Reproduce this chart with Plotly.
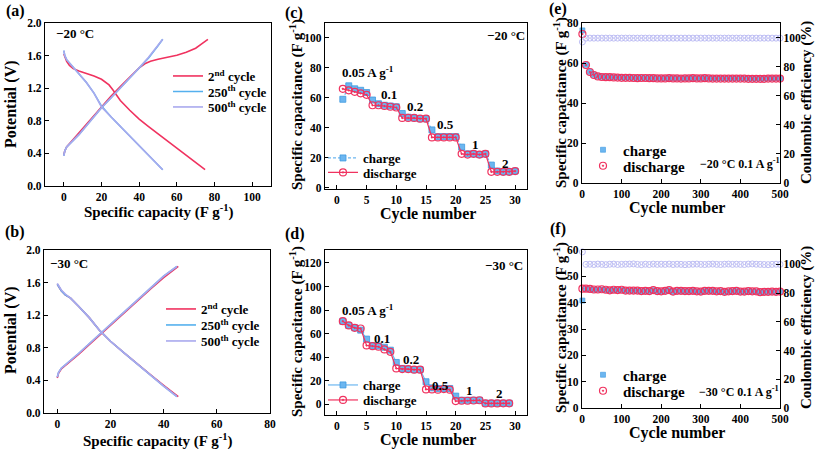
import plotly.graph_objects as go

W, H = 815, 449
FONT = "Liberation Serif"
RED = "#f0325f"
BLUE = "#55b0ee"
LAV = "#a9a9ee"
CEC = "#bdbdf4"
SQ = "#6cb6f0"

# ---------------- data ----------------
# (a) -20 C GCD
a2_chg_x = [0, 0.5, 1.5, 3, 5, 8, 12, 16, 20, 25, 30, 35, 40, 43, 46, 50, 55, 60, 65, 70, 73, 76.5]
a2_chg_y = [0.38, 0.43, 0.48, 0.52, 0.57, 0.65, 0.76, 0.87, 0.98, 1.10, 1.22, 1.34, 1.45, 1.50, 1.53, 1.555, 1.58, 1.605, 1.64, 1.69, 1.74, 1.80]
a2_dis_x = [0, 0.5, 1.5, 3, 5, 8, 12, 16, 20, 22, 24, 26, 28, 30, 35, 40, 45, 50, 55, 60, 65, 70, 75]
a2_dis_y = [1.62, 1.58, 1.53, 1.48, 1.44, 1.41, 1.38, 1.35, 1.31, 1.28, 1.24, 1.18, 1.11, 1.05, 0.93, 0.82, 0.73, 0.64, 0.56, 0.47, 0.38, 0.29, 0.20]
a250_chg_x = [0, 0.5, 1.5, 3, 5, 8, 12, 16, 20, 25, 30, 35, 40, 45, 50, 52.5]
a250_chg_y = [0.37, 0.43, 0.48, 0.52, 0.56, 0.63, 0.74, 0.85, 0.96, 1.08, 1.20, 1.32, 1.44, 1.57, 1.72, 1.80]
a250_dis_x = [0, 0.5, 1.5, 3, 5, 8, 12, 16, 20, 25, 30, 35, 40, 45, 50, 52.5]
a250_dis_y = [1.66, 1.60, 1.55, 1.51, 1.46, 1.38, 1.27, 1.14, 0.98, 0.85, 0.73, 0.61, 0.49, 0.38, 0.26, 0.20]
a500_chg_x = [0, 0.5, 1.5, 3, 5, 8, 12, 16, 20, 25, 30, 35, 40, 45, 50, 52.5]
a500_chg_y = [0.37, 0.43, 0.48, 0.52, 0.56, 0.63, 0.74, 0.85, 0.96, 1.08, 1.20, 1.32, 1.45, 1.58, 1.72, 1.80]
a500_dis_x = [0, 0.5, 1.5, 3, 5, 8, 12, 16, 20, 25, 30, 35, 40, 45, 50, 52.5]
a500_dis_y = [1.66, 1.60, 1.55, 1.51, 1.46, 1.38, 1.27, 1.14, 0.97, 0.85, 0.73, 0.61, 0.49, 0.37, 0.26, 0.20]

# (b) -30 C GCD
b2_chg_x = [0, 0.5, 1.5, 3, 5, 8, 12, 16, 20, 25, 30, 35, 40, 45.5]
b2_chg_y = [0.43, 0.49, 0.54, 0.58, 0.64, 0.72, 0.84, 0.96, 1.08, 1.22, 1.37, 1.52, 1.66, 1.80]
b2_dis_x = [0, 0.5, 1.5, 3, 5, 8, 12, 16, 20, 25, 30, 35, 40, 45.5]
b2_dis_y = [1.58, 1.55, 1.50, 1.45, 1.41, 1.31, 1.17, 1.01, 0.88, 0.74, 0.60, 0.47, 0.34, 0.20]
b250_chg_x = [0, 0.5, 1.5, 3, 5, 8, 12, 16, 20, 25, 30, 35, 40, 45]
b250_chg_y = [0.44, 0.50, 0.55, 0.59, 0.65, 0.73, 0.85, 0.97, 1.09, 1.23, 1.38, 1.53, 1.68, 1.80]
b250_dis_x = [0, 0.5, 1.5, 3, 5, 8, 12, 16, 20, 25, 30, 35, 40, 45]
b250_dis_y = [1.58, 1.55, 1.50, 1.45, 1.41, 1.31, 1.17, 1.01, 0.88, 0.74, 0.60, 0.47, 0.33, 0.20]
b500_chg_x = [0, 0.5, 1.5, 3, 5, 8, 12, 16, 20, 25, 30, 35, 40, 45]
b500_chg_y = [0.44, 0.50, 0.55, 0.59, 0.65, 0.73, 0.85, 0.97, 1.09, 1.23, 1.38, 1.53, 1.68, 1.80]
b500_dis_x = [0, 0.5, 1.5, 3, 5, 8, 12, 16, 20, 25, 30, 35, 40, 45]
b500_dis_y = [1.59, 1.56, 1.51, 1.46, 1.41, 1.31, 1.17, 1.01, 0.88, 0.74, 0.60, 0.47, 0.33, 0.20]

# (c) -20 C rate
c_cycles = [1, 2, 3, 4, 5, 6, 7, 8, 9, 10, 11, 12, 13, 14, 15, 16, 17, 18, 19, 20, 21, 22, 23, 24, 25, 26, 27, 28, 29, 30]
c_charge = [59, 68, 66, 65, 63.5, 58.5, 56, 55, 54.5, 54, 49.5, 47, 46.5, 46, 46, 38.5, 34, 34, 34, 34, 27, 22.5, 22.5, 22, 22.5, 15, 11, 10.5, 10.5, 11]
c_discharge = [66, 65, 64, 63, 62, 55, 55, 54.5, 54, 53.5, 46.5, 46.5, 46.5, 46, 46, 33.5, 33.5, 33.5, 33.5, 33.5, 22.5, 22, 22.5, 22, 22.5, 10.5, 10.5, 10.5, 10.5, 11]
c_rate_labels = ["0.05 A g<sup>-1</sup>", "0.1", "0.2", "0.5", "1", "2"]
c_rate_x = [5.2, 8.7, 13.1, 18.3, 23.4, 28.3]
c_rate_y = [77, 62, 54, 42, 29, 16]

# (d) -30 C rate
d_cycles = [1, 2, 3, 4, 5, 6, 7, 8, 9, 10, 11, 12, 13, 14, 15, 16, 17, 18, 19, 20, 21, 22, 23, 24, 25, 26, 27, 28, 29]
d_charge = [70.5, 67, 65, 63, 55.4, 50, 49.5, 48.5, 46, 35.6, 30.5, 30, 29.5, 29.5, 19.2, 14, 13.5, 13.5, 13.5, 7, 3.5, 3.5, 3.5, 3.5, 1, 1, 1, 1, 1]
d_discharge = [70.6, 67, 65, 64.4, 50, 49.4, 48.9, 46.6, 44.6, 30.5, 30, 30, 29.5, 29.5, 12.7, 12.7, 12.5, 13, 12.5, 2.8, 3.1, 3.1, 3.3, 3.5, 0.8, 0.8, 0.8, 0.9, 0.9]
d_rate_labels = ["0.05 A g<sup>-1</sup>", "0.1", "0.2", "0.5", "1", "2"]
d_rate_x = [5.3, 7.6, 12.4, 17.5, 22.4, 27.3]
d_rate_y = [80, 56, 38, 16, 11.5, 9.3]

# (e) -20 C cycling
e_cycles = [1, 10, 20, 30, 40, 50, 60, 70, 80, 90, 100, 110, 120, 130, 140, 150, 160, 170, 180, 190, 200,
            210, 220, 230, 240, 250, 260, 270, 280, 290, 300, 310, 320, 330, 340, 350, 360, 370, 380, 390, 400,
            410, 420, 430, 440, 450, 460, 470, 480, 490, 500]
e_discharge = [74.5, 59.0, 55.5, 54.0, 53.3, 53.0, 52.9, 52.9, 52.8, 52.7, 52.6, 52.6, 52.6, 52.5, 52.4, 52.5, 52.5,
               52.4, 52.4, 52.3, 52.3, 52.3, 52.4, 52.3, 52.3, 52.2, 52.3, 52.3, 52.4, 52.3, 52.3, 52.4, 52.3, 52.2,
               52.2, 52.2, 52.2, 52.2, 52.2, 52.2, 52.2, 52.2, 52.1, 52.1, 52.1, 52.1, 52.1, 52.2, 52.2, 52.2, 52.2]
e_charge = [76.3, 59.1, 55.6, 54.1, 53.4, 53.1, 53.0, 53.0, 52.9, 52.8, 52.7, 52.7, 52.7, 52.6, 52.5, 52.6, 52.6,
            52.5, 52.5, 52.4, 52.4, 52.4, 52.5, 52.4, 52.4, 52.3, 52.4, 52.4, 52.5, 52.4, 52.4, 52.5, 52.4, 52.3,
            52.3, 52.3, 52.3, 52.3, 52.3, 52.3, 52.3, 52.3, 52.2, 52.2, 52.2, 52.2, 52.2, 52.3, 52.3, 52.3, 52.3]
e_ce = [97.0, 99.6, 99.6, 99.6, 99.6, 99.6, 99.6, 99.6, 99.6, 99.6, 99.6, 99.6, 99.6, 99.6, 99.6, 99.6, 99.6,
        99.6, 99.6, 99.6, 99.6, 99.6, 99.6, 99.6, 99.6, 99.6, 99.6, 99.6, 99.6, 99.6, 99.6, 99.6, 99.6, 99.6,
        99.6, 99.6, 99.6, 99.6, 99.6, 99.6, 99.6, 99.6, 99.6, 99.6, 99.6, 99.6, 99.6, 99.6, 99.6, 99.6, 99.6]

# (f) -30 C cycling
f_cycles = e_cycles
f_discharge = [45.3, 45.3, 45.2, 45.0, 45.0, 45.1, 44.9, 44.7, 44.9, 44.8, 44.9, 44.6, 44.6, 44.6, 44.6, 44.4, 44.5,
               44.4, 44.8, 44.4, 44.3, 44.5, 44.8, 44.2, 44.5, 44.5, 44.4, 44.4, 44.5, 44.3, 44.2, 44.5, 44.5, 44.5,
               44.3, 44.4, 44.1, 44.3, 44.4, 44.5, 44.2, 44.2, 44.4, 44.3, 44.3, 44.0, 44.1, 44.1, 44.2, 44.1, 44.2]
f_charge = [40.8, 45.2, 45.1, 44.9, 44.9, 45.0, 44.8, 44.6, 44.8, 44.7, 44.8, 44.5, 44.5, 44.5, 44.5, 44.3, 44.4,
            44.3, 44.7, 44.3, 44.2, 44.4, 44.7, 44.1, 44.4, 44.4, 44.3, 44.3, 44.4, 44.2, 44.1, 44.4, 44.4, 44.4,
            44.2, 44.3, 44.0, 44.2, 44.3, 44.4, 44.1, 44.1, 44.3, 44.2, 44.2, 43.9, 44.0, 44.0, 44.1, 44.0, 44.1]
f_ce = [108.7, 100.0, 100.1, 99.9, 100.2, 100.0, 99.8, 100.1, 100.2, 99.9, 100.0, 100.1, 100.2, 100.3, 100.0, 99.8,
        100.1, 99.9, 100.2, 100.0, 100.1, 100.0, 100.2, 99.9, 100.1, 100.0, 99.8, 100.0, 100.1, 100.2, 100.0, 99.9,
        100.1, 100.2, 100.0, 99.9, 100.1, 100.2, 100.0, 100.1, 100.0, 99.9, 100.2, 100.3, 100.1, 100.0, 99.9, 99.8,
        100.0, 100.1, 100.0]

# ---------------- helpers ----------------
def px(x):
    return x / W

def py(y):
    return 1 - y / H

def join(x1, y1, x2, y2):
    return list(x1) + [None] + list(x2), list(y1) + [None] + list(y2)

fig = go.Figure()

def gcd(xs1, ys1, xs2, ys2, name, color, xa, ya, leg):
    x, y = join(xs1, ys1, xs2, ys2)
    fig.add_trace(go.Scatter(x=x, y=y, mode="lines", name="<b>%s</b>" % name, line=dict(color=color, width=1.6),
                             xaxis=xa, yaxis=ya, legend=leg, connectgaps=False))

gcd(a2_chg_x, a2_chg_y, a2_dis_x, a2_dis_y, "2<sup>nd</sup> cycle", RED, "x", "y", "legend")
gcd(a250_chg_x, a250_chg_y, a250_dis_x, a250_dis_y, "250<sup>th</sup> cycle", BLUE, "x", "y", "legend2")
gcd(a500_chg_x, a500_chg_y, a500_dis_x, a500_dis_y, "500<sup>th</sup> cycle", LAV, "x", "y", "legend3")
gcd(b2_chg_x, b2_chg_y, b2_dis_x, b2_dis_y, "2<sup>nd</sup> cycle", RED, "x2", "y2", "legend4")
gcd(b250_chg_x, b250_chg_y, b250_dis_x, b250_dis_y, "250<sup>th</sup> cycle", BLUE, "x2", "y2", "legend5")
gcd(b500_chg_x, b500_chg_y, b500_dis_x, b500_dis_y, "500<sup>th</sup> cycle", LAV, "x2", "y2", "legend6")

def rate(cyc, chg, dis, xa, ya, leg1, leg2, dash):
    fig.add_trace(go.Scatter(x=cyc, y=chg, mode="lines+markers", name="<b>charge</b>",
                             line=dict(color=SQ, width=1.2, dash=dash),
                             marker=dict(symbol="square", size=6, color=SQ, line=dict(color="#3f9be0", width=0.8)),
                             xaxis=xa, yaxis=ya, legend=leg1))
    fig.add_trace(go.Scatter(x=cyc, y=dis, mode="lines+markers", name="<b>discharge</b>",
                             line=dict(color=RED, width=1.2),
                             marker=dict(symbol="circle-open-dot", size=7, color=RED, line=dict(width=1.2)),
                             xaxis=xa, yaxis=ya, legend=leg2))

rate(c_cycles, c_charge, c_discharge, "x3", "y3", "legend7", "legend8", "3px,2px")
rate(d_cycles, d_charge, d_discharge, "x4", "y4", "legend9", "legend10", "solid")

def cyc_panel(cyc, chg, dis, ce, xa, ya, ya2, leg1, leg2):
    fig.add_trace(go.Scatter(x=cyc, y=ce, mode="markers", name="CE", showlegend=False,
                             marker=dict(symbol="circle-open-dot", size=6, color=CEC, line=dict(width=1)),
                             xaxis=xa, yaxis=ya2, cliponaxis=False))
    fig.add_trace(go.Scatter(x=cyc, y=chg, mode="markers", name="<b>charge</b>",
                             marker=dict(symbol="square", size=5, color=SQ, line=dict(color="#3f9be0", width=0.6)),
                             xaxis=xa, yaxis=ya, legend=leg1, cliponaxis=False))
    fig.add_trace(go.Scatter(x=cyc, y=dis, mode="markers", name="<b>discharge</b>",
                             marker=dict(symbol="circle-open-dot", size=7, color=RED, line=dict(width=1.2)),
                             xaxis=xa, yaxis=ya, legend=leg2, cliponaxis=False))

cyc_panel(e_cycles, e_charge, e_discharge, e_ce, "x5", "y5", "y7", "legend11", "legend12")
cyc_panel(f_cycles, f_charge, f_discharge, f_ce, "x6", "y6", "y8", "legend13", "legend14")

TF = dict(family=FONT, size=11.5, color="black", weight="bold")

def ax(domain, rng, tickvals, anchor, fmt=None, **kw):
    d = dict(domain=domain, range=rng, tickvals=tickvals, anchor=anchor, showline=True, linecolor="black",
             linewidth=1.3, mirror=True, ticks="inside", ticklen=4, tickwidth=1.2, tickcolor="black",
             tickfont=TF, showgrid=False, zeroline=False, automargin=False)
    if fmt:
        d["tickformat"] = fmt
    d.update(kw)
    return d

# domains (pixels -> paper)
dxa = [px(45), px(271)]
dxb = [px(44), px(270)]
dxc = [px(325), px(527)]
dxe = [px(582), px(780)]
dya = [py(186), py(23)]
dyb = [py(413), py(250)]
dyc = [py(189), py(23)]
dyd = [py(415), py(250)]
dye = [py(183), py(23)]
dyf = [py(408), py(250)]

fig.update_layout(
    width=W, height=H, margin=dict(l=0, r=0, t=0, b=0, autoexpand=False),
    paper_bgcolor="white", plot_bgcolor="white",
    font=dict(family=FONT, color="black"),
    xaxis=ax(dxa, [-10, 110], [0, 20, 40, 60, 80, 100], "y"),
    yaxis=ax(dya, [0, 2.0], [0, 0.4, 0.8, 1.2, 1.6, 2.0], "x", ".1f"),
    xaxis2=ax(dxb, [-5, 80], [0, 20, 40, 60, 80], "y2"),
    yaxis2=ax(dyb, [0, 2.0], [0, 0.4, 0.8, 1.2, 1.6, 2.0], "x2", ".1f"),
    xaxis3=ax(dxc, [-2, 32], [0, 5, 10, 15, 20, 25, 30], "y3"),
    yaxis3=ax(dyc, [-1, 110], [0, 20, 40, 60, 80, 100], "x3"),
    xaxis4=ax(dxc, [-2, 32], [0, 5, 10, 15, 20, 25, 30], "y4"),
    yaxis4=ax(dyd, [-9, 131], [0, 20, 40, 60, 80, 100, 120], "x4"),
    xaxis5=ax(dxe, [0, 500], [0, 100, 200, 300, 400, 500], "y5"),
    yaxis5=ax(dye, [0, 80], [0, 20, 40, 60, 80], "x5"),
    yaxis7=ax(dye, [0, 110], [0, 20, 40, 60, 80, 100], "x5", overlaying="y5", side="right"),
    xaxis6=ax(dxe, [0, 500], [0, 100, 200, 300, 400, 500], "y6"),
    yaxis6=ax(dyf, [0, 60], [0, 10, 20, 30, 40, 50, 60], "x6"),
    yaxis8=ax(dyf, [0, 110], [0, 20, 40, 60, 80, 100], "x6", overlaying="y6", side="right"),
)

def leg(text_x, y, size):
    # text_x: where the legend text should start (pixels); y: row centre (pixels)
    return dict(x=px(text_x - 39), y=py(y), xanchor="left", yanchor="middle", bgcolor="rgba(0,0,0,0)",
                font=dict(family=FONT, size=size, color="black"), itemwidth=30, borderwidth=0)

fig.update_layout(
    legend=leg(207, 76, 13), legend2=leg(207, 91.5, 13), legend3=leg(207, 107, 13),
    legend4=leg(200, 309, 13), legend5=leg(200, 325, 13), legend6=leg(200, 341, 13),
    legend7=leg(362, 158, 13), legend8=leg(362, 172.5, 13),
    legend9=leg(362, 385, 13), legend10=leg(362, 400, 13),
    legend11=leg(622, 150, 15), legend12=leg(622, 166, 15),
    legend13=leg(622, 375, 15), legend14=leg(622, 391, 15),
)

ann = []

def text(x, y, s, size=13, angle=0, xanchor="center", xref="paper", yref="paper"):
    ann.append(dict(x=x, y=y, xref=xref, yref=yref, text="<b>%s</b>" % s, showarrow=False,
                    font=dict(family=FONT, size=size, color="black"), textangle=angle,
                    xanchor=xanchor, yanchor="middle"))

# panel labels
for lab, x, y in [("(a)", 15, 11), ("(b)", 15, 232), ("(c)", 294, 13), ("(d)", 295, 234), ("(e)", 558, 9), ("(f)", 558, 229)]:
    text(px(x), py(y), lab, size=16)

# axis titles
text(px(158), py(211), "Specific capacity (F g<sup>-1</sup>)", size=15)
text(px(11), py(104), "Potential (V)", size=16, angle=-90)
text(px(157), py(440), "Specific capacity (F g<sup>-1</sup>)", size=15)
text(px(11), py(330), "Potential (V)", size=16, angle=-90)
text(px(428), py(214), "Cycle number", size=16)
text(px(296), py(105), "Specific capacitance (F g<sup>-1</sup>)", size=15, angle=-90)
text(px(428), py(440), "Cycle number", size=16)
text(px(296), py(332), "Specific capacitance (F g<sup>-1</sup>)", size=15, angle=-90)
text(px(677), py(208), "Cycle number", size=16)
text(px(560), py(103), "Specific capacitance (F g<sup>-1</sup>)", size=15, angle=-90)
text(px(806), py(103), "Coulombic efficiency (%)", size=15, angle=-90)
text(px(677), py(433), "Cycle number", size=16)
text(px(560), py(328), "Specific capacitance (F g<sup>-1</sup>)", size=15, angle=-90)
text(px(806), py(328), "Coulombic efficiency (%)", size=15, angle=-90)

# temperatures
text(px(54), py(34), "\u221220 \u00b0C", size=13, xanchor="left")
text(px(48), py(263), "\u221230 \u00b0C", size=13, xanchor="left")
text(28.4, 101.5, "\u221220 \u00b0C", size=13, xref="x3", yref="y3")
text(28.2, 118, "\u221230 \u00b0C", size=13, xref="x4", yref="y4")
text(px(740), py(164), "\u221220 \u00b0C 0.1 A g<sup>-1</sup>", size=12)
text(px(739), py(391), "\u221230 \u00b0C 0.1 A g<sup>-1</sup>", size=12)

for s, x, y in zip(c_rate_labels, c_rate_x, c_rate_y):
    text(x, y, s, size=13, xref="x3", yref="y3")
for s, x, y in zip(d_rate_labels, d_rate_x, d_rate_y):
    text(x, y, s, size=13, xref="x4", yref="y4")

fig.update_layout(annotations=ann)

fig.write_html("out.html", config={"displayModeBar": False},
               post_script="document.body.style.margin='0px';document.body.style.padding='0px';")
